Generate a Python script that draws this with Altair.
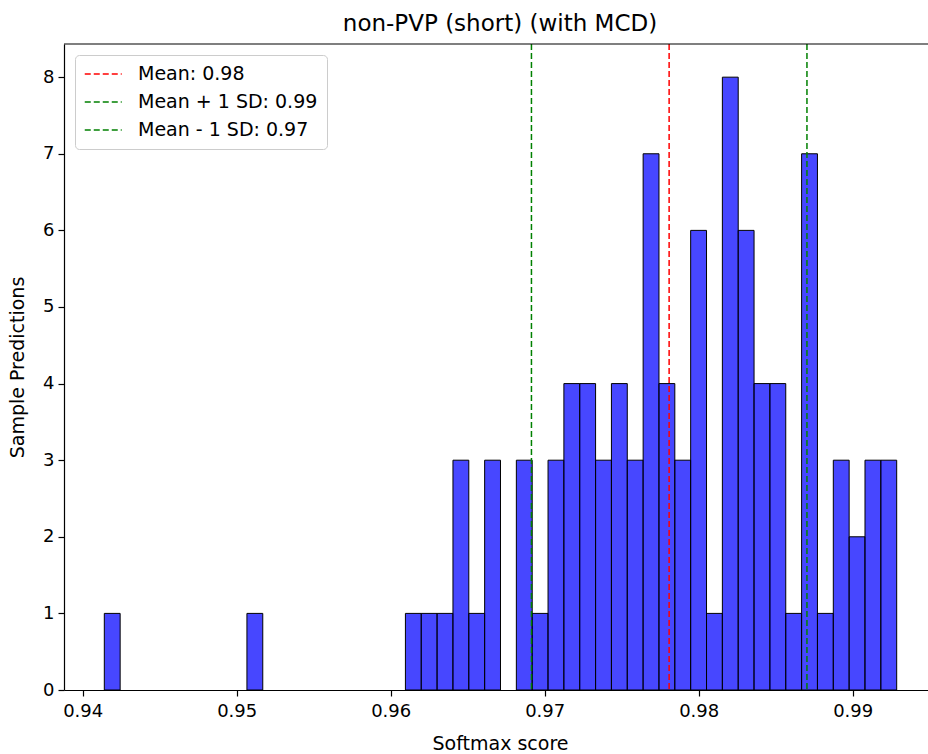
import altair as alt
import numpy as np
import pandas as pd

# Histogram counts (50 equal bins between hist_min and hist_max)
counts = [1, 0, 0, 0, 0, 0, 0, 0, 0, 1,
          0, 0, 0, 0, 0, 0, 0, 0, 0, 1,
          1, 1, 3, 1, 3, 0, 3, 1, 3, 4,
          4, 3, 4, 3, 7, 4, 3, 6, 1, 8,
          6, 4, 4, 1, 7, 1, 3, 2, 3, 3]
hist_min = 0.941403
hist_max = 0.992857

# Reference lines
line_labels = ["Mean: 0.98", "Mean + 1 SD: 0.99", "Mean - 1 SD: 0.97"]
line_values = [0.97808, 0.98703, 0.96914]
line_colors = ["red", "green", "green"]

x_ticks = [0.94, 0.95, 0.96, 0.97, 0.98, 0.99]
y_ticks = [0, 1, 2, 3, 4, 5, 6, 7, 8]

edges = np.linspace(hist_min, hist_max, len(counts) + 1)
bars = pd.DataFrame({"start": edges[:-1], "end": edges[1:], "count": counts})
bars = bars[bars["count"] > 0]
lines = pd.DataFrame({"label": line_labels, "value": line_values})

FONT = "DejaVu Sans"
W, H = 864, 646
xscale = alt.Scale(domain=[0.938786, 0.994890], nice=False, zero=False)
yscale = alt.Scale(domain=[0, 8.433], nice=False)

hist = alt.Chart(bars).mark_bar(
    color="#0000ff", fillOpacity=0.72, stroke="black", strokeWidth=1
).encode(
    x=alt.X("start:Q", scale=xscale,
            axis=alt.Axis(values=x_ticks, format=".2f", title="Softmax score",
                          grid=False, labelPadding=6, labelFlush=False,
                          titleX=436, titleY=53, titleBaseline="middle")),
    x2="end:Q",
    y=alt.Y("count:Q", scale=yscale,
            axis=alt.Axis(values=y_ticks, format="d", title="Sample Predictions",
                          grid=False, labelFlush=False,
                          titleX=-47, titleY=323, titleBaseline="middle")),
    y2=alt.datum(0),
)

vlines = alt.Chart(lines).mark_rule(strokeDash=[6, 3], strokeWidth=1.5).encode(
    x=alt.X("value:Q", scale=xscale),
    color=alt.Color("label:N",
                    scale=alt.Scale(domain=line_labels, range=line_colors),
                    legend=alt.Legend(title=None, orient="none", legendX=11, legendY=11)),
)

top_border = alt.Chart(pd.DataFrame({"a": [0]})).mark_rule(color="black", strokeWidth=1.2).encode(
    y=alt.value(0), x=alt.value(0), x2=alt.value(W)
)

chart = alt.layer(hist, vlines, top_border).properties(
    width=W, height=H,
    title=alt.TitleParams("non-PVP (short) (with MCD)", font=FONT, fontSize=23,
                          fontWeight="normal", color="black", offset=7, dx=4),
    autosize=alt.AutoSizeParams(type="none"),
    padding={"left": 64, "top": 44, "right": 0, "bottom": 64},
    background="white",
).configure_view(stroke=None).configure_axis(
    labelFont=FONT, labelFontSize=18, labelColor="black",
    titleFont=FONT, titleFontSize=19, titleFontWeight="normal", titleColor="black",
    domainColor="black", domainWidth=1.2, tickColor="black", tickWidth=1.2,
    tickSize=6, labelPadding=4,
).configure_legend(
    labelFont=FONT, labelFontSize=19, labelColor="black", labelLimit=400,
    symbolType="M-1,0H3", symbolStrokeWidth=1.4, symbolDash=[6, 3], symbolSize=342,
    strokeColor="#cccccc", fillColor="white", cornerRadius=4, padding=9,
    rowPadding=8, labelOffset=34,
)

chart.save("out.html", embed_options={"renderer": "svg", "actions": False})
